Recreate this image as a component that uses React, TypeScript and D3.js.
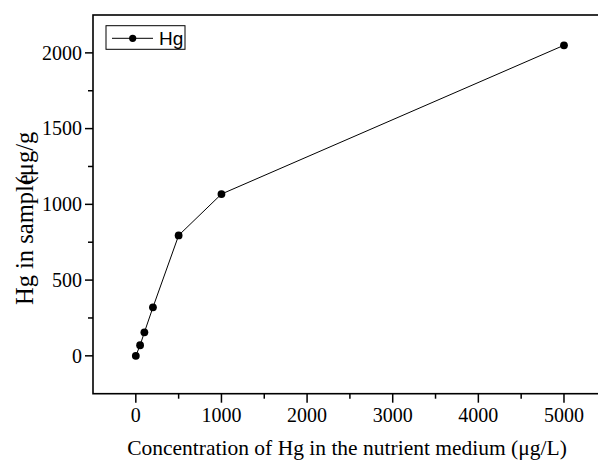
import React from "react";
import * as d3 from "d3";

const concentrations = [0, 50, 100, 200, 500, 1000, 5000];
const hgInSample = [0, 70, 155, 320, 795, 1068, 2050];
const xMajorTicks = [0, 1000, 2000, 3000, 4000, 5000];
const xMinorTicks = [500, 1500, 2500, 3500, 4500];
const yMajorTicks = [0, 500, 1000, 1500, 2000];
const yMinorTicks = [250, 750, 1250, 1750];
const seriesName = "Hg";
const xTitle = "Concentration of Hg in the nutrient medium (μg/L)";
const yTitleA = "Hg in sample";
const yTitleB = "(μg/g";

const W = 598;
const H = 462;
const left = 93;
const top = 15;
const bottom = 393.7;
const right = 606.8;
const serif = "'Liberation Serif', 'Times New Roman', Times, serif";
const sans = "'Liberation Sans', Arial, sans-serif";

export default function App() {
  const x = d3.scaleLinear().domain([-500, 5500]).range([left, right]);
  const y = d3.scaleLinear().domain([-250, 2250]).range([bottom, top]);
  const pts = concentrations.map((c, i) => [c, hgInSample[i]] as [number, number]);
  const path = d3.line<[number, number]>().x(d => x(d[0])).y(d => y(d[1]))(pts) || "";
  const fmt = d3.format("d");

  return (
    <div style={{ position: "fixed", left: 0, top: 0, width: W, height: H, background: "#fff" }}>
      <svg width={W} height={H} style={{ display: "block" }}>
        <rect x={left} y={top} width={right - left} height={bottom - top} fill="none" stroke="#000" strokeWidth={1.6} />

        {xMajorTicks.map(t => (
          <g key={"xm" + t}>
            <line x1={x(t)} x2={x(t)} y1={bottom} y2={bottom + 9} stroke="#000" strokeWidth={1.5} />
            <text x={x(t)} y={421.5} textAnchor="middle" fontFamily={serif} fontSize={20} fill="#000">{fmt(t)}</text>
          </g>
        ))}
        {xMinorTicks.map(t => (
          <line key={"xn" + t} x1={x(t)} x2={x(t)} y1={bottom} y2={bottom + 5} stroke="#000" strokeWidth={1.5} />
        ))}

        {yMajorTicks.map(t => (
          <g key={"ym" + t}>
            <line x1={left - 8} x2={left} y1={y(t)} y2={y(t)} stroke="#000" strokeWidth={1.5} />
            <text x={left - 11} y={y(t)} dy="0.34em" textAnchor="end" fontFamily={serif} fontSize={20} fill="#000">{fmt(t)}</text>
          </g>
        ))}
        {yMinorTicks.map(t => (
          <line key={"yn" + t} x1={left - 5} x2={left} y1={y(t)} y2={y(t)} stroke="#000" strokeWidth={1.5} />
        ))}

        <path d={path} fill="none" stroke="#000" strokeWidth={1} />
        {pts.map((d, i) => (
          <circle key={"p" + i} cx={x(d[0])} cy={y(d[1])} r={3.9} fill="#000" />
        ))}

        <text x={347} y={455} textAnchor="middle" fontFamily={serif} fontSize={21.5} fill="#000">{xTitle}</text>
        <text transform="translate(33,305) rotate(-90)" fontFamily={serif} fontSize={24.5} fill="#000">
          <tspan>{yTitleA}</tspan>
          <tspan dx={-10}>{yTitleB}</tspan>
        </text>

        <rect x={106} y={25.7} width={79} height={23.6} fill="#fff" stroke="#000" strokeWidth={1} />
        <line x1={112} x2={153} y1={38.3} y2={38.3} stroke="#000" strokeWidth={1} />
        <circle cx={132.7} cy={38.3} r={3.6} fill="#000" />
        <text x={159} y={44.5} fontFamily={sans} fontSize={19} fill="#000">{seriesName}</text>
      </svg>
    </div>
  );
}
